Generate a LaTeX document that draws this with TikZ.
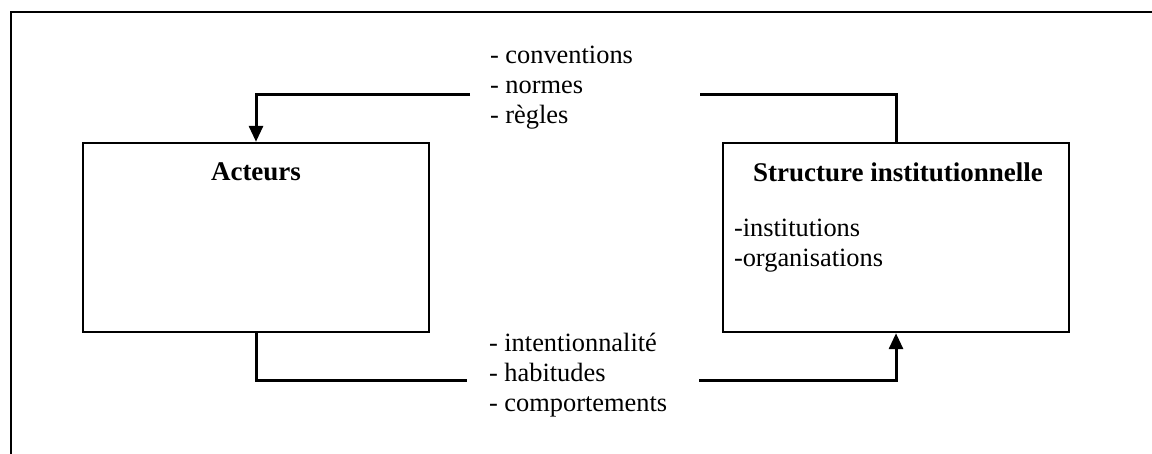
\documentclass[tikz,border=0pt]{standalone}
\usepackage{fontspec}
\setmainfont{Liberation Serif}
\usetikzlibrary{arrows.meta}

\tikzset{every picture/.style={line width=1pt}}
\tikzset{
  box/.style={draw, line width=1.2pt, minimum width=173pt, minimum height=94.5pt, inner sep=0pt},
  lab/.style={align=left, anchor=west, inner sep=0pt, font=\fontsize{13.2}{15}\selectfont},
  ttl/.style={inner sep=0pt, font=\fontsize{13.5}{15}\selectfont\bfseries},
  link/.style={line width=1.5pt},
  arr/.style={link, -{Triangle[length=8pt,width=7pt]}}
}

\begin{document}
\begin{tikzpicture}[x=0.5pt, y=-0.5pt]
        \useasboundingbox (0,0) rectangle (1152,454);
        \draw (11,460) -- (11,12.5) -- (1160,12.5);
        \node[box] (acteurs) at (256,237.5) {};
        \node[box] (structure) at (896,237.5) {};
        \node[ttl] (acteursT) at (256,172) {Acteurs};
        \node[ttl] (structureT) at (898,172) {Structure institutionnelle};
        \node[lab] (structureL) at (733,246) {-institutions\\-organisations};
        \node[lab] (normes) at (489,88) {- conventions\\- normes\\- règles};
        \node[lab] (habitudes) at (488,375) {- intentionnalité\\- habitudes\\- comportements};
        \coordinate (t1) at (470,95);
        \coordinate (t2) at (700,95);
        \coordinate (b1) at (467,381);
        \coordinate (b2) at (699,381);
        \draw[arr] (t1) -| (acteurs.north);
        \draw[link] (t2) -| (structure.north);
        \draw[link] (acteurs.south) |- (b1);
        \draw[arr] (b2) -| (structure.south);
    \end{tikzpicture}
\end{document}
